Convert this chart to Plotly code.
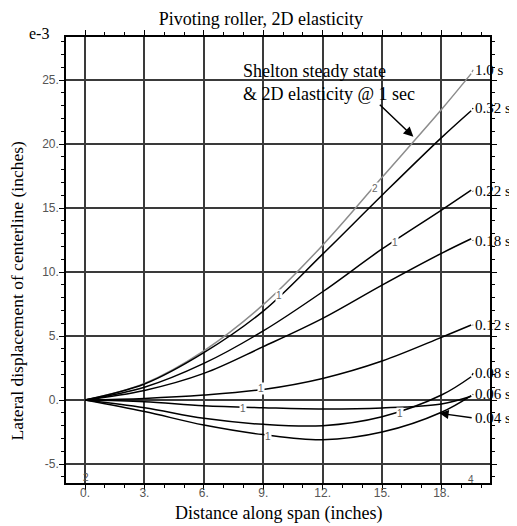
import plotly.graph_objects as go

# ---- data ----
XS = [0, 3, 6, 9, 12, 15, 18, 19.5]
curve_names = ["1.0 s", "0.32 s", "0.22 s", "0.18 s", "0.12 s", "0.08 s", "0.06 s", "0.04 s"]
y_10 = [0, 1.3, 3.85, 7.45, 12.1, 17.4, 22.7, 25.5]
y_032 = [0, 1.25, 3.7, 6.95, 11.4, 16.0, 20.5, 22.6]
y_022 = [0, 1.0, 2.86, 5.4, 8.46, 11.8, 14.84, 16.4]
y_018 = [0, 0.75, 2.08, 4.17, 6.38, 8.98, 11.46, 12.6]
y_012 = [0, 0.13, 0.39, 0.83, 1.69, 3.05, 4.9, 5.86]
y_008 = [0, -0.6, -1.43, -1.9, -2.0, -1.3, 0.39, 1.82]
y_006 = [0, -0.13, -0.45, -0.6, -0.7, -0.62, -0.3, 0.3]
y_004 = [0, -0.9, -1.95, -2.7, -3.1, -2.5, -0.95, 0.35]
series = [y_10, y_032, y_022, y_018, y_012, y_008, y_006, y_004]

# label text positions (y) at right end of curves
label_y = [25.8, 22.8, 16.3, 12.45, 5.86, 2.1, 0.45, -1.4]

x_tickvals = [0, 3, 6, 9, 12, 15, 18]
x_ticktext = ["0.", "3.", "6.", "9.", "12.", "15.", "18."]
y_tickvals = [-5, 0, 5, 10, 15, 20, 25]
y_ticktext = ["-5.", "0.", "5.", "10.", "15.", "20.", "25."]

# small inline contour-style labels: (x, y, text)
inline_x = [9.8, 14.65, 15.66, 8.9, 8.0, 9.26, 15.9]
inline_y = [8.2, 16.5, 12.3, 0.9, -0.65, -2.87, -1.04]
inline_t = ["1", "2", "1", "1", "1", "1", "1"]

SERIF = "Liberation Serif"
SANS = "Liberation Sans"

fig = go.Figure()
for name, ys in zip(curve_names, series):
    color = "#8c8c8c" if name == "1.0 s" else "black"
    fig.add_trace(go.Scatter(x=XS, y=ys, mode="lines", name=name,
                             line=dict(color=color, width=1.5, shape="spline", smoothing=1.0),
                             showlegend=False, hoverinfo="skip"))

annotations = []
for name, ly, ys in zip(curve_names, label_y, series):
    annotations.append(dict(x=19.6, y=ly, xref="x", yref="y", text=name, showarrow=False,
                            xanchor="left", yanchor="middle",
                            font=dict(family=SERIF, size=15, color="black")))
    if name != "0.04 s":
        annotations.append(dict(x=19.6, y=ly, xref="x", yref="y", ax=XS[-1], ay=ys[-1],
                                axref="x", ayref="y", text="", showarrow=True,
                                arrowhead=0, arrowwidth=1.2,
                                arrowcolor=("#8c8c8c" if name == "1.0 s" else "black")))

# arrow for 0.04 s
annotations.append(dict(x=17.9, y=-1.04, xref="x", yref="y", ax=19.6, ay=-1.4,
                        axref="x", ayref="y", text="", showarrow=True,
                        arrowhead=2, arrowsize=1.3, arrowwidth=1.4, arrowcolor="black"))

for tx, ty, tt in zip(inline_x, inline_y, inline_t):
    annotations.append(dict(x=tx, y=ty, xref="x", yref="y", text=tt, showarrow=False,
                            bgcolor="white", borderpad=0,
                            font=dict(family=SANS, size=10, color="#666")))

# Shelton annotation
annotations.append(dict(x=7.88, y=24.84, xref="x", yref="y",
                        text="Shelton steady state<br>&amp; 2D elasticity @ 1 sec",
                        showarrow=False, xanchor="left", yanchor="middle", align="left",
                        font=dict(family=SERIF, size=18, color="black")))
annotations.append(dict(x=16.58, y=20.57, xref="x", yref="y", ax=14.81, ay=23.18,
                        axref="x", ayref="y", text="", showarrow=True,
                        arrowhead=2, arrowsize=1.3, arrowwidth=1.5, arrowcolor="black"))

# small markers at the axis ends
annotations.append(dict(x=0.05, y=-6.05, xref="x", yref="y", text="2", showarrow=False,
                        font=dict(family=SANS, size=10, color="#555")))
annotations.append(dict(x=19.5, y=-6.2, xref="x", yref="y", text="4", showarrow=False,
                        font=dict(family=SANS, size=10, color="#555")))

# axis titles and exponent
annotations.append(dict(x=0.502, y=-0.068, xref="paper", yref="paper",
                        text="Distance along span (inches)", showarrow=False,
                        yanchor="middle", font=dict(family=SERIF, size=18, color="black")))
annotations.append(dict(x=-0.115, y=0.43, xref="paper", yref="paper",
                        text="Lateral displacement of centerline (inches)", showarrow=False,
                        textangle=-90, xanchor="center", yanchor="middle",
                        font=dict(family=SERIF, size=17.5, color="black")))
annotations.append(dict(x=-0.092, y=1.007, xref="paper", yref="paper", text="e-3",
                        showarrow=False, yanchor="middle",
                        font=dict(family=SERIF, size=16, color="black")))

axis_common = dict(showline=True, linecolor="black", linewidth=1.5, mirror="ticks",
                   ticks="outside", ticklen=5, tickwidth=1.3, tickcolor="black",
                   showgrid=True, gridcolor="#3a3a3a", gridwidth=1.5, zeroline=False,
                   tickfont=dict(family=SANS, size=12, color="#555"))

# page body adds an 8px offset; figure is sized so the plot lands where the reference has it
fig.update_layout(
    width=509, height=518,
    margin=dict(l=58, r=27, t=29, b=43, autoexpand=False),
    paper_bgcolor="white", plot_bgcolor="white",
    title=dict(text="Pivoting roller, 2D elasticity", x=0.497, y=0.979, xanchor="center",
               yanchor="middle", font=dict(family=SERIF, size=18, color="black")),
    xaxis=dict(range=[-0.96, 20.45], tickmode="array", tickvals=x_tickvals, ticktext=x_ticktext,
               ticklabelstandoff=-7,
               minor=dict(tickmode="linear", tick0=0, dtick=1, ticks="outside", ticklen=3,
                          tickcolor="black", showgrid=False), **axis_common),
    yaxis=dict(range=[-6.48, 28.36], tickmode="array", tickvals=y_tickvals, ticktext=y_ticktext,
               ticklabelstandoff=-2,
               minor=dict(tickmode="linear", tick0=0, dtick=1, ticks="outside", ticklen=3,
                          tickcolor="black", showgrid=False), **axis_common),
    annotations=annotations,
)

fig.write_html("out.html")
